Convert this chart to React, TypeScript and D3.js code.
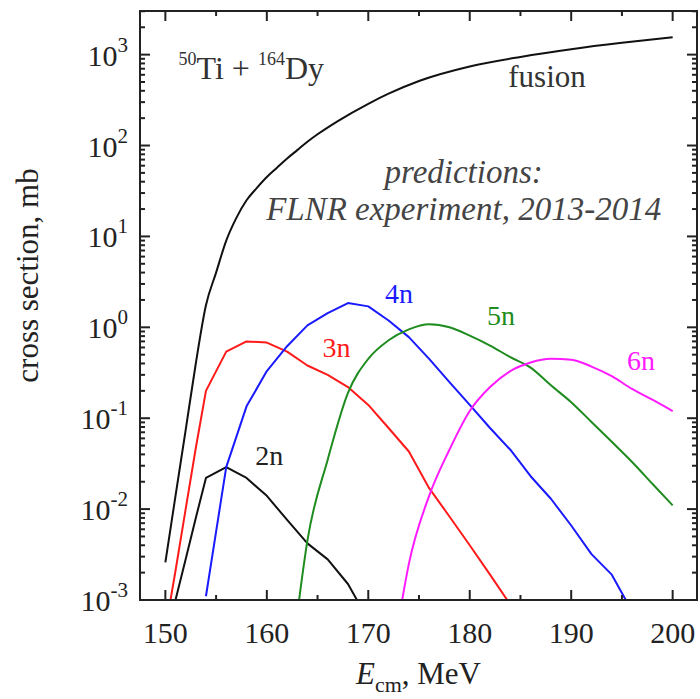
import React from "react";
import * as d3 from "d3";

// fusion cross section
const fusionE = [150, 151, 152, 153, 154, 155, 156, 157, 158, 159, 160, 161, 162, 163, 164, 165, 167, 170, 172, 175, 180, 185, 190, 195, 200];
const fusionXS = [0.0026, 0.014, 0.074, 0.4, 1.75, 4.0, 9, 16, 25, 34, 45, 57, 72, 89, 110, 133, 186, 288, 372, 513, 741, 944, 1148, 1349, 1549];

const n2E = [151, 152, 153, 154, 156, 158, 160, 162, 164, 166, 168, 170];
const n2XS = [0.001, 0.0028, 0.008, 0.022, 0.029, 0.022, 0.014, 0.0076, 0.0042, 0.0028, 0.0015, 0.0006];

const n3E = [150, 151, 152, 153, 154, 156, 158, 160, 162, 164, 166, 168, 170, 172, 174, 176, 178, 180, 182, 184];
const n3XS = [0.00047, 0.0021, 0.01, 0.047, 0.2, 0.54, 0.7, 0.68, 0.54, 0.38, 0.3, 0.22, 0.14, 0.078, 0.043, 0.017, 0.0083, 0.004, 0.0019, 0.00089];

const n4E = [154, 156, 158, 160, 162, 164, 166, 168, 170, 172, 174, 176, 178, 180, 182, 184, 186, 188, 190, 192, 194, 196];
const n4XS = [0.0011, 0.029, 0.135, 0.33, 0.62, 1.05, 1.43, 1.85, 1.7, 1.19, 0.78, 0.45, 0.25, 0.14, 0.078, 0.045, 0.023, 0.013, 0.0066, 0.0032, 0.0019, 0.00075];

const n5E = [163, 164, 166, 168, 170, 172, 174, 176, 178, 180, 182, 184, 186, 188, 190, 192, 194, 196, 198, 200];
const n5XS = [0.0007, 0.0045, 0.035, 0.19, 0.45, 0.72, 0.95, 1.08, 1.0, 0.81, 0.63, 0.47, 0.36, 0.23, 0.15, 0.091, 0.055, 0.033, 0.019, 0.011];

const n6E = [173, 174, 176, 178, 180, 182, 184, 186, 188, 190, 192, 194, 196, 198, 200];
const n6XS = [0.0006, 0.0025, 0.014, 0.045, 0.12, 0.22, 0.33, 0.41, 0.45, 0.44, 0.37, 0.29, 0.21, 0.16, 0.12];

const xTicks = [150, 160, 170, 180, 190, 200];
const yExponents = [-3, -2, -1, 0, 1, 2, 3];

const W = 700;
const H = 699;
const left = 140, right = 697, top = 11, bottom = 600;
const serif = "'Liberation Serif', 'Times New Roman', serif";

const App = () => {
  const x = d3.scaleLinear().domain([147.5, 202.4]).range([left, right]);
  const y = d3.scaleLog().domain([1e-3, Math.pow(10, 3.48)]).range([bottom, top]);

  const line = d3
    .line<[number, number]>()
    .x((d) => x(d[0]))
    .y((d) => y(d[1]));
  const smooth = d3
    .line<[number, number]>()
    .x((d) => x(d[0]))
    .y((d) => y(d[1]))
    .curve(d3.curveMonotoneX);

  const series = [
    { e: fusionE, v: fusionXS, color: "#111111", gen: smooth },
    { e: n2E, v: n2XS, color: "#111111", gen: line },
    { e: n3E, v: n3XS, color: "#ff1a1a", gen: line },
    { e: n4E, v: n4XS, color: "#1a1aff", gen: line },
    { e: n5E, v: n5XS, color: "#1e8c1e", gen: smooth },
    { e: n6E, v: n6XS, color: "#ff1aff", gen: smooth },
  ];

  // minor ticks
  const xMinor = d3.range(150, 201, 5).filter((t) => t % 10 !== 0);
  const yMinor: number[] = [];
  for (let p = -3; p <= 3; p++) {
    for (let m = 2; m <= 9; m++) {
      const v = m * Math.pow(10, p);
      if (v <= y.domain()[1]) yMinor.push(v);
    }
  }

  const labels = [
    { t: "2n", e: 158.86, v: 0.0305, color: "#222" },
    { t: "3n", e: 165.5, v: 0.47, color: "#ff1a1a" },
    { t: "4n", e: 171.65, v: 1.84, color: "#1a1aff" },
    { t: "5n", e: 181.7, v: 1.05, color: "#1e8c1e" },
    { t: "6n", e: 195.5, v: 0.34, color: "#ff1aff" },
  ];

  return (
    <svg width={W} height={H} style={{ position: "absolute", left: 0, top: 0 }} fontFamily={serif}>
      <rect width={W} height={H} fill="#fff" />
      <defs>
        <clipPath id="plot">
          <rect x={left} y={top} width={right - left} height={bottom - top} />
        </clipPath>
      </defs>

      <g clipPath="url(#plot)">
        {series.map((s, i) => (
          <path
            key={i}
            d={s.gen(s.e.map((e, j) => [e, s.v[j]] as [number, number])) || ""}
            fill="none"
            stroke={s.color}
            strokeWidth={2}
            strokeLinejoin="round"
          />
        ))}
      </g>

      {/* ticks */}
      <g stroke="#222" strokeWidth={2}>
        {xTicks.map((t) => (
          <g key={"xt" + t}>
            <line x1={x(t)} x2={x(t)} y1={bottom} y2={bottom - 10} />
            <line x1={x(t)} x2={x(t)} y1={top} y2={top + 10} />
          </g>
        ))}
        {xMinor.map((t) => (
          <g key={"xm" + t}>
            <line x1={x(t)} x2={x(t)} y1={bottom} y2={bottom - 5} />
            <line x1={x(t)} x2={x(t)} y1={top} y2={top + 5} />
          </g>
        ))}
        {yExponents.map((p) => (
          <g key={"yt" + p}>
            <line x1={left} x2={left + 10} y1={y(Math.pow(10, p))} y2={y(Math.pow(10, p))} />
            <line x1={right} x2={right - 10} y1={y(Math.pow(10, p))} y2={y(Math.pow(10, p))} />
          </g>
        ))}
        {yMinor.map((v, i) => (
          <g key={"ym" + i}>
            <line x1={left} x2={left + 5} y1={y(v)} y2={y(v)} />
            <line x1={right} x2={right - 5} y1={y(v)} y2={y(v)} />
          </g>
        ))}
      </g>

      <rect x={left} y={top} width={right - left} height={bottom - top} fill="none" stroke="#222" strokeWidth={2} />

      {/* tick labels */}
      <g fill="#222" fontSize={30}>
        {xTicks.map((t) => (
          <text key={"xl" + t} x={x(t)} y={bottom + 43} textAnchor="middle">
            {t}
          </text>
        ))}
        {yExponents.map((p) => (
          <text key={"yl" + p} x={left - 12} y={y(Math.pow(10, p)) + 11} textAnchor="end">
            10
            <tspan dy={-14} fontSize={21}>
              {p}
            </tspan>
          </text>
        ))}
      </g>

      {/* axis titles */}
      <text
        transform={`translate(${38},${(top + bottom) / 2 - 30}) rotate(-90)`}
        textAnchor="middle"
        fontSize={31}
        fill="#222"
      >
        cross section, mb
      </text>
      <text x={(left + right) / 2} y={684} textAnchor="middle" fontSize={31} fill="#222">
        <tspan fontStyle="italic">E</tspan>
        <tspan fontSize={22} dy={8}>cm</tspan>
        <tspan dy={-8}>, MeV</tspan>
      </text>

      {/* annotations */}
      <text x={x(151.3)} y={y(535)} fontSize={32} fill="#333">
        <tspan fontSize={18} dy={-14}>50</tspan>
        <tspan dy={14}>Ti + </tspan>
        <tspan fontSize={18} dy={-14}>164</tspan>
        <tspan dy={14}>Dy</tspan>
      </text>
      <text x={x(183.8)} y={y(440)} fontSize={31} fill="#333">
        fusion
      </text>
      <g fontStyle="italic" fontSize={33} fill="#444" textAnchor="middle">
        <text x={x(179.4)} y={y(Math.pow(10, -3 + (bottom - 183) / 90.9))}>predictions:</text>
        <text x={x(179.4)} y={y(Math.pow(10, -3 + (bottom - 220) / 90.9))}>FLNR experiment, 2013-2014</text>
      </g>
      {labels.map((l) => (
        <text key={l.t} x={x(l.e)} y={y(l.v)} fontSize={28} fill={l.color}>
          {l.t}
        </text>
      ))}
    </svg>
  );
};

export default App;
